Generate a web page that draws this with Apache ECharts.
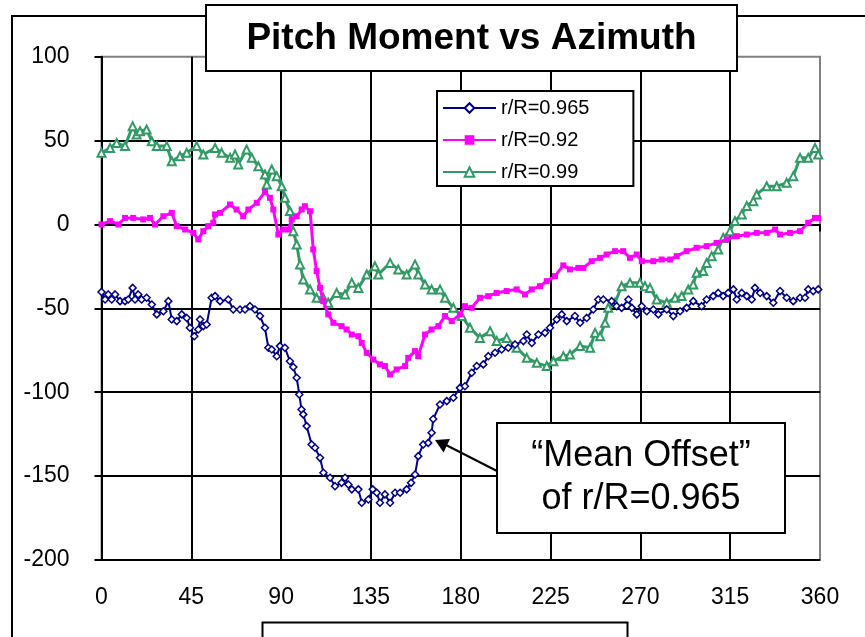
<!DOCTYPE html>
<html>
<head>
<meta charset="utf-8">
<script src="https://cdn.jsdelivr.net/npm/echarts@6/dist/echarts.min.js"></script>
<style>
  html, body { margin: 0; padding: 0; background: #fff; }
  #main { width: 865px; height: 637px; }
</style>
</head>
<body>
<div id="main"></div>
<script>
// azimuth ticks and y ticks
const xTicks = [0, 45, 90, 135, 180, 225, 270, 315, 360];
const yTicks = [-200, -150, -100, -50, 0, 50, 100];
const seriesNames = ["r/R=0.965", "r/R=0.92", "r/R=0.99"];

// r/R=0.965 (blue)
const r0965 = [
  [0, -40.2], [1.8, -44.7], [3.4, -41.7], [5.1, -44.7], [6.8, -41.7], [9.3, -45.7], [11.8, -45.7],
  [13.4, -44.7], [15.6, -37.8], [16.8, -44.7], [18.4, -41.7], [20.1, -44.7], [22.6, -43.7],
  [25.2, -47.7], [27.7, -53.6], [31, -51.7], [33.5, -45.7], [35.2, -56.6], [37.7, -57.6],
  [40.2, -53.6], [42.7, -55.7], [44.3, -61.6], [46.5, -66.6], [48.5, -62.6], [49.4, -56.6],
  [51, -60.6], [52.7, -59.6], [55.2, -43.7], [56.9, -42.7], [59.4, -45.7], [63.5, -44.7],
  [66, -50.7], [69.4, -50.7], [71.9, -50.7], [74.4, -48.7], [76.9, -50.7], [79.4, -54.6],
  [81.9, -61.6], [83.6, -73.5], [85.3, -74.5], [87.8, -78.5], [89.4, -72.5], [91.9, -73.5],
  [94.4, -81.5], [96.1, -85], [97.8, -91.4], [99.1, -101.3], [100.2, -110.3], [101.1, -113.2],
  [102.8, -120.2], [105.3, -131.1], [107, -133.1], [109.5, -139.1], [111.2, -148], [114.5, -151],
  [117, -156], [120.3, -154], [122, -151], [123.7, -155], [125.4, -157.9], [128.7, -157.9],
  [130.4, -165.9], [133.7, -163.9], [135.9, -157.9], [137.9, -159.9], [139.5, -165.9],
  [142, -160.9], [144.6, -165.9], [147.1, -159.9], [149.6, -159.9], [152.9, -157.9],
  [155.1, -154], [157.1, -149], [158.7, -138.1], [161.2, -131.1], [163.7, -130.2],
  [165.4, -124.2], [166.2, -116], [169.6, -107.3], [173, -105.3], [176.3, -103.3],
  [179.6, -97.4], [182.1, -96.4], [185.5, -88.4], [188, -84.4], [191.3, -83.4], [193.8, -78.5],
  [197.2, -76.5], [200.5, -74.5], [203.8, -73.5], [207.2, -71.5], [211.4, -69.5], [213.1, -65.6],
  [215.6, -70.6], [218.9, -65.6], [222.2, -64.6], [224.7, -61.6], [228.1, -56.6], [230.6, -53.6],
  [233.1, -57.6], [237.2, -54.6], [239.8, -58.6], [243.1, -55.7], [246.4, -50.7], [248.9, -44.7],
  [251.4, -44.7], [255.6, -45.7], [258.1, -48.7], [260.6, -49.7], [264, -44.7], [265.7, -49.7],
  [268.2, -53.6], [270.7, -48.7], [273.2, -51.7], [276.5, -50.7], [279, -53.6], [283.2, -50.7],
  [286.5, -54.6], [289.9, -51.7], [293.2, -49.7], [296.5, -45.7], [300.7, -48.7], [303.2, -44.7],
  [306.5, -42.7], [309, -40.8], [311.5, -42.7], [314, -40.8], [316.6, -38.7], [318.3, -44.7],
  [320.8, -40.8], [323.3, -42.7], [325.8, -44.7], [327.4, -37.8], [330, -40.8], [333.3, -42.7],
  [336.6, -46.7], [340, -39.7], [343.3, -43.7], [346.6, -45.7], [350, -43.7], [352.5, -43.7],
  [354.1, -38.7], [356.6, -39.7], [359.1, -38.7]
];

// r/R=0.92 (magenta)
const r092 = [
  [0, 0], [4.3, 2], [8.4, 0], [11.8, 3.9], [15.9, 3.9], [20.9, 3], [24.3, 3.9], [26.8, 0],
  [31, 4.9], [35.2, 6.9], [37.7, -1], [41.9, -3], [46, -5], [48.5, -8.9], [51, -4], [53.5, -1],
  [56, 1], [56.9, 6], [59.4, 6.9], [64.4, 11.9], [67.7, 8.9], [71, 4.9], [73.6, 8.9],
  [77.8, 12.9], [81.9, 19.4], [84.4, 15.9], [86.1, 8.9], [88.6, -6], [91.1, -3], [93.6, -3],
  [95.3, 3], [97.8, 4.9], [100.3, 8.9], [101.9, 10.9], [104.5, 7.9], [106.1, -14.9],
  [107.8, -27.8], [109.5, -37.8], [111.1, -45.7], [113.6, -53.6], [116.2, -58.6], [120.3, -60.6],
  [122.8, -62.6], [125.4, -65.6], [128.7, -66.6], [130.4, -70.6], [132.9, -76.5], [136.2, -80.5],
  [139.5, -83.4], [142, -84.4], [144.6, -89.4], [147.9, -86.4], [152.1, -84.4], [153.7, -79.5],
  [157.1, -75.5], [158.7, -78.5], [162.1, -65.6], [165.4, -62.6], [168.8, -60.6], [172.1, -54.6],
  [175.5, -57.6], [179.6, -53.6], [182.1, -48.7], [185.5, -49.7], [189.6, -43.7], [193.8, -42.7],
  [198, -40.8], [203, -39.7], [208, -38.7], [212.2, -41.7], [215.6, -38.7], [219.7, -36.8],
  [223.1, -33.8], [227.2, -30.8], [231.4, -24.4], [234.7, -26.8], [238.9, -25.9], [241.4, -25.9],
  [245.6, -21.9], [249.8, -19.9], [253.1, -17.9], [257.3, -15.9], [261.4, -15.9], [264.8, -19.9],
  [268.2, -17.9], [270.7, -21.9], [276.5, -21.9], [280.7, -20.9], [284.9, -20.9], [288.2, -18.9],
  [293.2, -15.9], [298.2, -13.9], [303.2, -12.9], [308.2, -11], [313.3, -8.9], [318.3, -7],
  [323.3, -6], [328.3, -5], [333.3, -5], [337.5, -3], [340, -6], [345, -5], [350, -4],
  [354.1, 1], [357.5, 3.9], [359.1, 3.9]
];

// r/R=0.99 (green)
const r099 = [
  [0, 42.7], [4.3, 45.6], [7.6, 48.6], [11.8, 46.7], [15.6, 58.6], [17.6, 53.6], [19.3, 55.6],
  [22.6, 56.6], [25.2, 49.6], [27.7, 46.7], [32.7, 46.7], [35.2, 37.7], [39.3, 40.7], [42.7, 42.7],
  [47.7, 46.7], [51, 41.7], [56.9, 45.6], [60.2, 42.7], [64.4, 39.7], [66.9, 41.7], [68.5, 35.8],
  [72.7, 44.7], [75.3, 39.7], [78.6, 34.7], [81.9, 29.8], [82.8, 23.8], [85.3, 32.8], [87.8, 28.8],
  [90.3, 22.8], [91.9, 15.9], [94.4, 8], [96.1, -4], [97.8, -11.9], [99.5, -23.8], [101.1, -32.8],
  [104.5, -38.7], [107.8, -43.7], [111.1, -43.7], [113.6, -46.7], [117.8, -40.8], [122, -41.7],
  [125.4, -34.8], [128.7, -37.8], [132.9, -29.8], [137, -24.9], [138.7, -29.8], [144.6, -22.9],
  [148.7, -26.8], [152.9, -29.8], [157.1, -23.8], [158.7, -29.8], [162.1, -35.8], [165.4, -38.7],
  [169.6, -38.7], [172.1, -43.7], [176.3, -49.7], [180.5, -54.6], [184.6, -61.6], [189.6, -67.6],
  [194.7, -63.6], [198, -69.5], [203, -67.6], [208, -73.5], [213.1, -79.5], [218.1, -82.5],
  [223.1, -84.4], [226.4, -81.5], [231.4, -78.5], [234.7, -77.5], [239.8, -72.5], [244.8, -73.5],
  [247.3, -64.6], [249.8, -66.6], [252.3, -58.6], [253.9, -49.7], [257.3, -46.7], [260.6, -36.8],
  [264.8, -34.8], [269.8, -34.8], [272.3, -36.8], [274.8, -37.8], [278.2, -44.7], [283.2, -46.7],
  [287.4, -43.7], [290.7, -42.7], [294, -38.7], [296.5, -35.8], [298.2, -28.8], [301.5, -27.8],
  [303.2, -22.9], [305.7, -18.9], [309, -14.9], [311.5, -8], [314.9, -4], [317.4, 2], [320.8, 6],
  [323.3, 11], [326.6, 13.9], [328.3, 17.9], [333.3, 22.8], [338.3, 22.8], [343.3, 24.8],
  [346.6, 28.8], [350, 39.7], [354.1, 39.7], [357.5, 45.6], [359.1, 41.7]
];

const FONT = "Liberation Sans, Arial, sans-serif";
var myChart = echarts.init(document.getElementById("main"));
var option = {
  animation: false,
  backgroundColor: "#fff",
  grid: {
    left: 101.5,
    right: 45,
    top: 56.7,
    bottom: 77,
    show: true,
    borderColor: "#808080",
    borderWidth: 2,
  },
  xAxis: {
    type: "value",
    min: xTicks[0],
    max: xTicks[xTicks.length - 1],
    interval: 45,
    axisLine: { lineStyle: { color: "#000", width: 2 } },
    axisTick: { show: true, length: 7, lineStyle: { color: "#000", width: 2 } },
    axisLabel: { color: "#000", fontSize: 23, fontFamily: FONT, margin: 26 },
    splitLine: { show: true, showMaxLine: false, lineStyle: { color: "#000", width: 2 } },
  },
  yAxis: {
    type: "value",
    min: yTicks[0],
    max: yTicks[yTicks.length - 1],
    interval: 50,
    axisLine: { show: true, lineStyle: { color: "#000", width: 2 } },
    axisTick: { show: true, length: 7, lineStyle: { color: "#000", width: 2 } },
    axisLabel: { color: "#000", fontSize: 23, fontFamily: FONT, margin: 32 },
    splitLine: { show: true, showMaxLine: false, lineStyle: { color: "#000", width: 2 } },
  },
  legend: {
    orient: "vertical",
    left: 437,
    top: 91,
    data: seriesNames,
    backgroundColor: "#fff",
    borderColor: "#000",
    borderWidth: 2,
    borderRadius: 0,
    padding: [7, 44, 4, 5],
    itemWidth: 53,
    itemHeight: 12,
    itemGap: 12,
    textStyle: { color: "#000", fontSize: 20, fontFamily: FONT, lineHeight: 20 },
  },
  series: [
    {
      name: seriesNames[0],
      type: "line",
      data: r0965,
      symbol: "diamond",
      symbolSize: 7,
      z: 4,
      lineStyle: { color: "#000080", width: 2 },
      itemStyle: { color: "#fff", borderColor: "#000080", borderWidth: 1.5 },
    },
    {
      name: seriesNames[1],
      type: "line",
      data: r092,
      symbol: "rect",
      symbolSize: 6,
      z: 3,
      lineStyle: { color: "#ff00ff", width: 3 },
      itemStyle: { color: "#ff00ff" },
    },
    {
      name: seriesNames[2],
      type: "line",
      data: r099,
      symbol: "triangle",
      symbolSize: 8,
      z: 2,
      lineStyle: { color: "#339966", width: 3 },
      itemStyle: { color: "#fff", borderColor: "#339966", borderWidth: 2 },
    },
  ],
  graphic: [
    // outer chart frame (runs off the right and bottom edges)
    {
      type: "rect", z: -10, silent: true,
      shape: { x: 12, y: 16, width: 900, height: 700 },
      style: { fill: "none", stroke: "#000", lineWidth: 2 },
    },
    // title box
    {
      type: "rect", z: 100,
      shape: { x: 206, y: 5, width: 531, height: 66 },
      style: { fill: "#fff", stroke: "#000", lineWidth: 2 },
    },
    {
      type: "text", z: 101, x: 471.5, y: 39,
      style: {
        text: "Pitch Moment vs Azimuth",
        fill: "#000", font: "bold 37px " + FONT,
        align: "center", verticalAlign: "middle",
      },
    },
    // empty axis title box at the bottom
    {
      type: "rect", z: 100,
      shape: { x: 262.5, y: 622.5, width: 365, height: 60 },
      style: { fill: "#fff", stroke: "#000", lineWidth: 2 },
    },
    // annotation
    {
      type: "line", z: 100,
      shape: { x1: 497, y1: 471, x2: 446, y2: 445 },
      style: { stroke: "#000", lineWidth: 2 },
    },
    {
      type: "polygon", z: 100,
      shape: { points: [[435, 440], [450, 439], [443.5, 452.5]] },
      style: { fill: "#000" },
    },
    {
      type: "rect", z: 100,
      shape: { x: 497, y: 423, width: 288, height: 110 },
      style: { fill: "#fff", stroke: "#000", lineWidth: 2 },
    },
    {
      type: "text", z: 101, x: 641, y: 478,
      style: {
        text: "\u201CMean Offset\u201D\nof r/R=0.965",
        fill: "#000", font: "36px " + FONT, lineHeight: 43,
        align: "center", verticalAlign: "middle",
      },
    },
  ],
};
myChart.setOption(option);
</script>
</body>
</html>
